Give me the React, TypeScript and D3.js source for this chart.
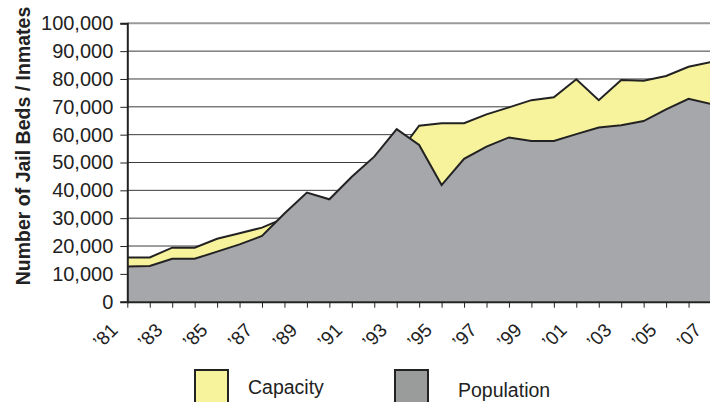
import * as d3 from 'd3';
import React, { useEffect, useRef } from 'react';

// values, one per year
const years = [1981, 1982, 1983, 1984, 1985, 1986, 1987, 1988, 1989, 1990, 1991, 1992, 1993, 1994,
    1995, 1996, 1997, 1998, 1999, 2000, 2001, 2002, 2003, 2004, 2005, 2006, 2007];
const capacity = [15900, 15900, 19400, 19400, 22600, 24600, 26600, 30000, 31500, 34000, 39000, 45500, 52500, 63200,
    64100, 64100, 67300, 69800, 72400, 73400, 79900, 72400, 79600, 79400, 81100, 84400, 86100];
const population = [12600, 12800, 15400, 15400, 18000, 20600, 23600, 31700, 39200, 36800, 44900, 52100, 62000, 56300,
    41900, 51300, 55700, 59000, 57700, 57700, 60200, 62600, 63400, 64900, 69100, 72900, 71000];
const yTicks = [0, 10000, 20000, 30000, 40000, 50000, 60000, 70000, 80000, 90000, 100000];
const labelYears = [1981, 1983, 1985, 1987, 1989, 1991, 1993, 1995, 1997, 1999, 2001, 2003, 2005, 2007];
const legendItems = ['Capacity', 'Population'];

const FONT = '"Liberation Sans", Arial, sans-serif';
const YELLOW = '#f7f39c';
const GRAY = '#a6a7ab';

export default function App() {
    const svgRef = useRef(null);
    const width = 710;
    const height = 402;
    const margin = { top: 23.3, right: -1, bottom: 100.3, left: 127.3 };

    useEffect(() => {
        const svg = d3.select(svgRef.current);
        svg.selectAll('*').remove();

        const xScale = d3.scaleLinear()
            .domain([years[0], years[years.length - 1]])
            .range([margin.left, width - margin.right]);
        const yScale = d3.scaleLinear()
            .domain([0, 100000])
            .range([height - margin.bottom, margin.top]);

        // gridlines
        svg.append('g')
            .selectAll('line')
            .data(yTicks.filter(d => d > 0))
            .enter()
            .append('line')
            .attr('x1', margin.left)
            .attr('x2', width)
            .attr('y1', d => yScale(d))
            .attr('y2', d => yScale(d))
            .attr('stroke', d => d === 100000 ? '#9a9a9a' : '#3c3c3c')
            .attr('stroke-width', d => d === 100000 ? 2 : 1);

        const rows = years.map((yr, i) => ({ yr, cap: capacity[i], pop: population[i] }));

        const capArea = d3.area()
            .x(d => xScale(d.yr))
            .y0(yScale(0))
            .y1(d => yScale(d.cap));
        const capLine = d3.line()
            .x(d => xScale(d.yr))
            .y(d => yScale(d.cap));
        const popArea = d3.area()
            .x(d => xScale(d.yr))
            .y0(yScale(0))
            .y1(d => yScale(d.pop));
        const popLine = d3.line()
            .x(d => xScale(d.yr))
            .y(d => yScale(d.pop));

        svg.append('path').datum(rows).attr('d', capArea).attr('fill', YELLOW);
        svg.append('path').datum(rows).attr('d', capLine)
            .attr('fill', 'none').attr('stroke', '#222').attr('stroke-width', 2).attr('stroke-linejoin', 'miter');
        svg.append('path').datum(rows).attr('d', popArea).attr('fill', GRAY);
        svg.append('path').datum(rows).attr('d', popLine)
            .attr('fill', 'none').attr('stroke', '#222').attr('stroke-width', 2).attr('stroke-linejoin', 'miter');

        // y axis
        const yAxis = d3.axisLeft(yScale)
            .tickValues(yTicks)
            .tickSize(7)
            .tickPadding(7)
            .tickFormat(d3.format(','));
        svg.append('g')
            .attr('transform', `translate(${margin.left},0)`)
            .call(yAxis)
            .call(g => g.select('.domain').attr('stroke', '#222').attr('stroke-width', 2))
            .call(g => g.selectAll('.tick line').attr('stroke', '#222'))
            .call(g => g.selectAll('.tick text')
                .attr('font-family', FONT).attr('font-size', 20).attr('fill', '#222'));

        // x axis
        const xAxis = d3.axisBottom(xScale)
            .tickValues(years)
            .tickSize(6)
            .tickSizeOuter(0)
            .tickFormat('');
        svg.append('g')
            .attr('transform', `translate(0,${yScale(0)})`)
            .call(xAxis)
            .call(g => g.select('.domain').attr('stroke', '#222').attr('stroke-width', 2))
            .call(g => g.selectAll('.tick line').attr('stroke', '#222'));

        svg.append('g')
            .selectAll('text')
            .data(labelYears)
            .enter()
            .append('text')
            .attr('transform', d => `translate(${xScale(d) - 13},${yScale(0) + 25}) rotate(-45)`)
            .attr('text-anchor', 'end')
            .attr('dominant-baseline', 'central')
            .attr('font-family', FONT)
            .attr('font-size', 19)
            .attr('fill', '#222')
            .text(d => '\u2019' + String(d).slice(2));

        // axis title
        svg.append('text')
            .attr('transform', `translate(23,146) rotate(-90)`)
            .attr('text-anchor', 'middle')
            .attr('dominant-baseline', 'central')
            .attr('font-family', FONT)
            .attr('font-size', 19.5)
            .attr('font-weight', 'bold')
            .attr('fill', '#222')
            .text('Number of Jail Beds / Inmates');

        // legend
        const legend = svg.append('g');
        const legendX = [195, 395];
        const legendFill = [YELLOW, '#9a9b9b'];
        legendItems.forEach((name, i) => {
            legend.append('rect')
                .attr('x', legendX[i])
                .attr('y', 370)
                .attr('width', 33)
                .attr('height', 40)
                .attr('fill', legendFill[i])
                .attr('stroke', '#222')
                .attr('stroke-width', 2);
            legend.append('text')
                .attr('x', legendX[i] + (i === 0 ? 53 : 63))
                .attr('y', i === 0 ? 387 : 390)
                .attr('dominant-baseline', 'central')
                .attr('font-family', FONT)
                .attr('font-size', 19.5)
                .attr('fill', '#222')
                .text(name);
        });
    }, []);

    return (
        <div style={{ position: 'absolute', left: 0, top: 0, width, height, background: '#fff' }}>
            <svg ref={svgRef} width={width} height={height} style={{ display: 'block' }} />
        </div>
    );
}
